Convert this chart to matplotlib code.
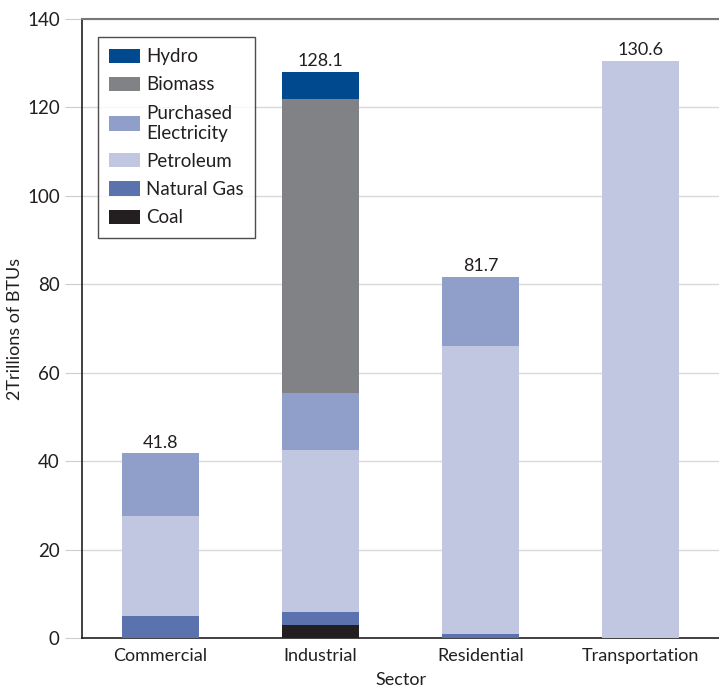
import matplotlib.pyplot as plt
import numpy as np

plt.rcParams['font.family'] = ['Lato', 'DejaVu Sans']

sectors = ['Commercial', 'Industrial', 'Residential', 'Transportation']
totals = [41.8, 128.1, 81.7, 130.6]

# stack order, bottom to top
coal = [0.0, 3.0, 0.0, 0.0]
natural_gas = [5.0, 2.9, 0.8, 0.0]
petroleum = [22.5, 36.7, 65.3, 130.6]
purchased_elec = [14.3, 12.7, 15.6, 0.0]
biomass = [0.0, 66.6, 0.0, 0.0]
hydro = [0.0, 6.2, 0.0, 0.0]

series = [
    ('Coal', coal, '#231f20'),
    ('Natural Gas', natural_gas, '#5a73ae'),
    ('Petroleum', petroleum, '#c2c7e1'),
    ('Purchased\nElectricity', purchased_elec, '#8f9fc9'),
    ('Biomass', biomass, '#808285'),
    ('Hydro', hydro, '#00498f'),
]

fig = plt.figure(figsize=(7.19, 6.92), dpi=100)
ax = fig.add_axes([82 / 719, 54 / 692, 1 - 82 / 719, (638 - 19) / 692])

x = np.arange(len(sectors))
bottom = np.zeros(len(sectors))
handles = []
for name, vals, col in series:
    b = ax.bar(x, vals, width=0.48, bottom=bottom, color=col, label=name, zorder=3)
    handles.append(b)
    bottom += np.array(vals)

for xi, t in zip(x, totals):
    ax.text(xi, t + 0.6, f'{t:.1f}', ha='center', va='bottom', fontsize=13, color='#231f20')

ax.set_xlim(-0.49, 3.49)
ax.set_ylim(0, 140)
ax.set_yticks(np.arange(0, 141, 20))
ax.set_xticks(x)
ax.set_xticklabels(sectors)
ax.tick_params(axis='y', length=12, color='#cccccc', labelsize=13.5, labelcolor='#231f20', pad=4)
ax.tick_params(axis='x', length=0, labelsize=13, labelcolor='#231f20', pad=7)
ax.grid(axis='y', color='#d9d9d9', linewidth=1, zorder=0)

ax.spines['right'].set_visible(False)
ax.spines['top'].set_color('#777777')
ax.spines['top'].set_linewidth(1.5)
ax.spines['left'].set_color('#231f20')
ax.spines['bottom'].set_color('#231f20')
ax.spines['left'].set_linewidth(1.2)
ax.spines['bottom'].set_linewidth(1.2)

ax.set_ylabel('2Trillions of BTUs', fontsize=13, color='#231f20', labelpad=3)
ax.set_xlabel('Sector', fontsize=13, color='#231f20', labelpad=6)

leg = ax.legend(handles[::-1], [s[0] for s in series[::-1]], loc='upper left',
                bbox_to_anchor=(0.025, 0.971), borderaxespad=0, fontsize=13.5,
                frameon=True, fancybox=False, edgecolor='#231f20',
                handlelength=1.65, handleheight=0.8, labelspacing=0.6,
                borderpad=0.6, handletextpad=0.32)
leg.get_frame().set_linewidth(1.0)
for t in leg.get_texts():
    t.set_color('#231f20')

fig.savefig('out.png', dpi=100)
